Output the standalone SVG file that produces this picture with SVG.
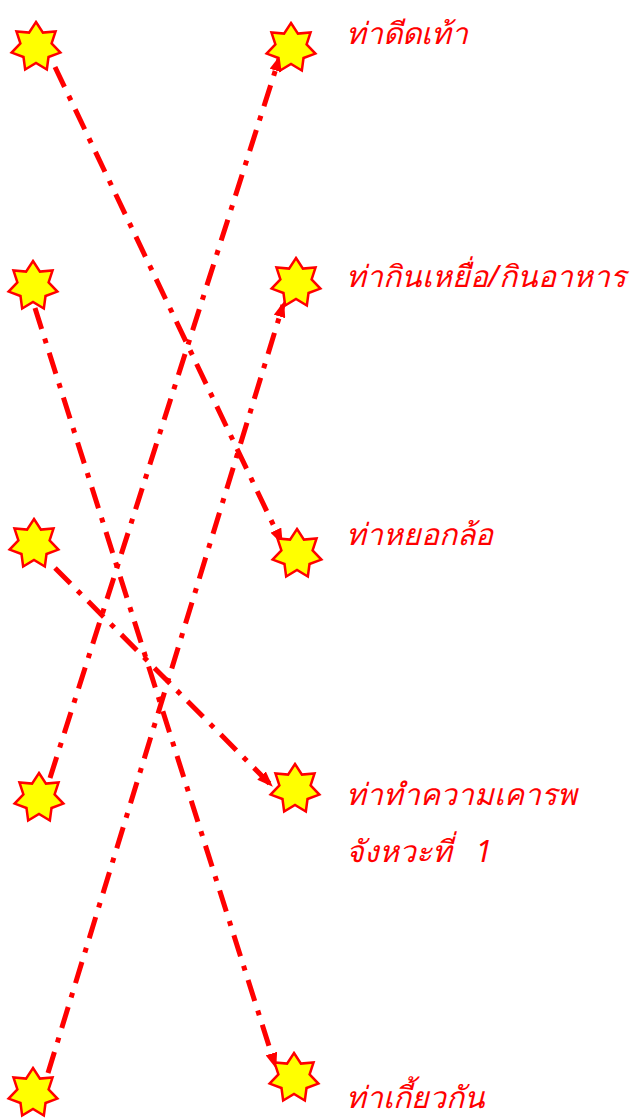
<svg xmlns="http://www.w3.org/2000/svg" width="637" height="1118" viewBox="0 0 637 1118">
<style>
.conn{fill:none;stroke:#ff0000;stroke-width:5;stroke-dasharray:22 10 5 10;stroke-linecap:butt;marker-end:url(#ah)}
.star{fill:#ffff00;stroke:#ff0000;stroke-width:2.5;stroke-linejoin:miter}
.lbl{fill:#ff0000;font-family:"Noto Sans","DejaVu Sans",Tahoma,sans-serif;font-style:italic;font-size:30px}
</style>
<defs>
<marker id="ah" markerUnits="userSpaceOnUse" viewBox="0 0 16 12" markerWidth="16" markerHeight="12" refX="12" refY="6" orient="auto">
<path d="M0,0 L16,6 L0,12 z" fill="#ff0000"/>
</marker>
<polygon id="st" points="0,-25 6.94,-14.42 19.55,-15.59 15.6,-3.56 24.37,5.56 12.51,9.98 10.85,22.53 0,16 -10.85,22.53 -12.51,9.98 -24.37,5.56 -15.6,-3.56 -19.55,-15.59 -6.94,-14.42"/>
</defs>
<g id="connectors">
<path class="conn" d="M55,67 L281,541"/>
<path class="conn" d="M50,778 L279,59"/>
<path class="conn" d="M35,308 L275,1065"/>
<path class="conn" d="M55,568 L270,784"/>
<path class="conn" d="M48,1073 L283,305"/>
</g>
<g id="L1"><use href="#st" class="star" x="36" y="47"/></g>
<g id="L2"><use href="#st" class="star" x="33" y="286"/></g>
<g id="L3"><use href="#st" class="star" x="34" y="544"/></g>
<g id="L4"><use href="#st" class="star" x="39" y="798"/></g>
<g id="L5"><use href="#st" class="star" x="33" y="1093"/></g>
<g id="R1"><use href="#st" class="star" x="291" y="48"/><text class="lbl" x="346" y="44">ท่าดีดเท้า</text></g>
<g id="R2"><use href="#st" class="star" x="296" y="283"/><text class="lbl" x="346" y="287">ท่ากินเหยื่อ/กินอาหาร</text></g>
<g id="R3"><use href="#st" class="star" x="297" y="554"/><text class="lbl" x="346" y="545">ท่าหยอกล้อ</text></g>
<g id="R4"><use href="#st" class="star" x="295" y="789"/><text class="lbl" x="346" y="805">ท่าทำความเคารพ</text><text class="lbl" x="346" y="862" xml:space="preserve">จังหวะที่   1</text></g>
<g id="R5"><use href="#st" class="star" x="294" y="1078"/><text class="lbl" x="346" y="1108">ท่าเกี้ยวกัน</text></g>
</svg>
